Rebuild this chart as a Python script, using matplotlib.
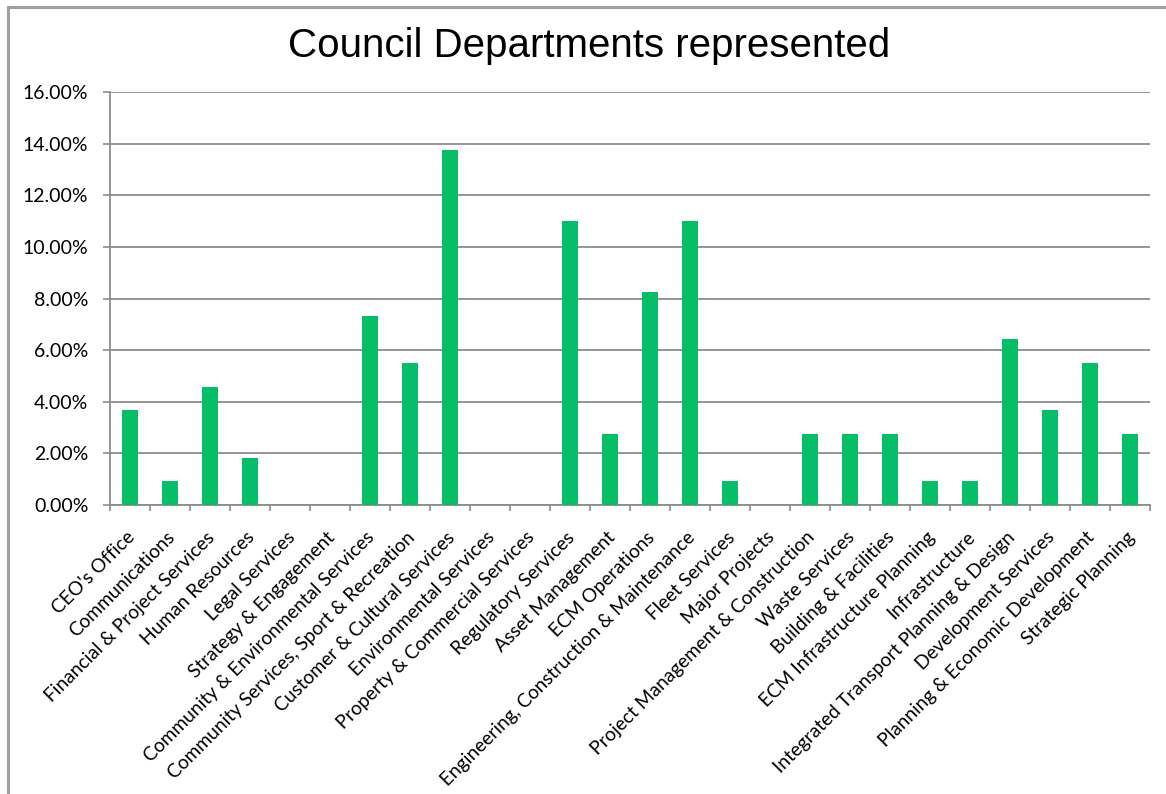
import matplotlib.pyplot as plt
import matplotlib.transforms as mtransforms
from matplotlib.ticker import FuncFormatter, MultipleLocator
from matplotlib.lines import Line2D

departments = [
    "CEO's Office",
    "Communications",
    "Financial & Project Services",
    "Human Resources",
    "Legal Services",
    "Strategy & Engagement",
    "Community & Environmental Services",
    "Community Services, Sport & Recreation",
    "Customer & Cultural Services",
    "Environmental Services",
    "Property & Commercial Services",
    "Regulatory Services",
    "Asset Management",
    "ECM Operations",
    "Engineering, Construction & Maintenance",
    "Fleet Services",
    "Major Projects",
    "Project Management & Construction",
    "Waste Services",
    "Building & Facilities",
    "ECM Infrastructure Planning",
    "Infrastructure",
    "Integrated Transport Planning & Design",
    "Development Services",
    "Planning & Economic Development",
    "Strategic Planning",
]
share_pct = [3.67, 0.92, 4.59, 1.83, 0.0, 0.0, 7.34, 5.50, 13.76, 0.0, 0.0,
             11.01, 2.75, 8.26, 11.01, 0.92, 0.0, 2.75, 2.75, 2.75, 0.92,
             0.92, 6.42, 3.67, 5.50, 2.75]

label_font = ["Lato", "DejaVu Sans"]
grey = "#8c8c8c"

fig = plt.figure(figsize=(11.66, 7.94), dpi=100)
ax = fig.add_axes([0.0943, 0.364, 0.8920, 0.520])

x = list(range(len(departments)))
ax.bar(x, share_pct, width=0.4, color="#05BE67", zorder=3)

ax.set_xlim(-0.5, len(departments) - 0.5)
ax.set_ylim(0, 16)
ax.yaxis.set_major_locator(MultipleLocator(2))
ax.yaxis.set_major_formatter(FuncFormatter(lambda v, _: f"{v:.2f}%"))
ax.grid(axis="y", color=grey, linewidth=1.3, zorder=0)

# category boundary ticks on the x axis, names centred under each bar
ax.set_xticks([i - 0.5 for i in range(len(departments) + 1)], minor=False)
ax.set_xticklabels([])
ax.set_xticks(x, minor=True)
ax.set_xticklabels(departments, minor=True, rotation=45, ha="right",
                   rotation_mode="anchor", fontsize=13.8, family=label_font)
ax.tick_params(axis="x", which="minor", length=0, pad=17)
ax.tick_params(axis="x", which="major", length=4, color=grey, width=1.2)
ax.tick_params(axis="y", length=5, color=grey, width=1.2, labelsize=14,
               pad=10.5)
for lbl in ax.get_yticklabels():
    lbl.set_family(label_font)

shift = mtransforms.ScaledTranslation(-4 / 100, 0, fig.dpi_scale_trans)
for lbl in ax.get_xticklabels(minor=True):
    lbl.set_transform(lbl.get_transform() + shift)

for side in ("top", "right"):
    ax.spines[side].set_visible(False)
for side in ("left", "bottom"):
    ax.spines[side].set_color(grey)
    ax.spines[side].set_linewidth(1.3)

fig.text(0.505, 0.942, "Council Departments represented", ha="center",
         va="center", fontsize=29, family=["Liberation Sans", "DejaVu Sans"])

# chart frame (top and left edges)
fig.add_artist(Line2D([0.0069, 1.0], [0.991, 0.991], color="#a0a0a0", lw=2.2))
fig.add_artist(Line2D([0.0069, 0.0069], [0.0, 0.991], color="#a0a0a0", lw=2.2))

fig.savefig("out.png", dpi=100)
